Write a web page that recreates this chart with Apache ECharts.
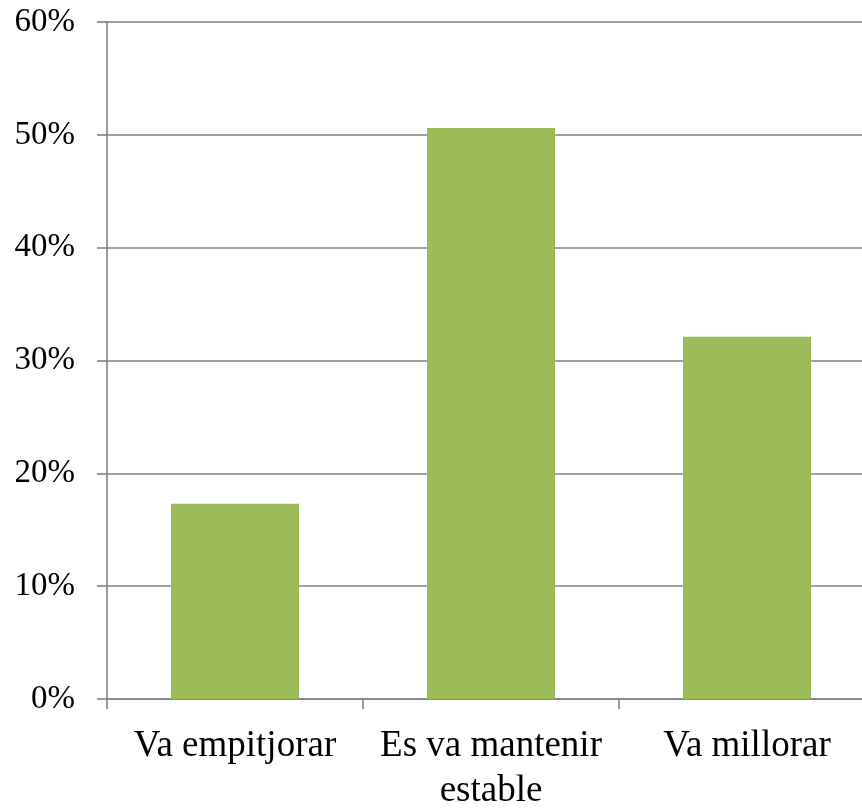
<!DOCTYPE html>
<html>
<head>
<meta charset="utf-8">
<script src="https://cdn.jsdelivr.net/npm/echarts@6/dist/echarts.min.js"></script>
<style>html,body{margin:0;padding:0;background:#fff}#c{width:862px;height:811px}</style>
</head>
<body>
<div id="c"></div>
<script>
const categories = ['Va empitjorar', 'Es va mantenir\nestable', 'Va millorar'];
const values = [0.173, 0.506, 0.321];
const yTicks = [0, 0.1, 0.2, 0.3, 0.4, 0.5, 0.6];

const chart = echarts.init(document.getElementById('c'));
const axisColor = '#808080';
const font = '"Liberation Serif", "Times New Roman", serif';
chart.setOption({
  animation: false,
  grid: { left: 107, top: 22, width: 768, height: 677, outerBoundsMode: 'none', containLabel: false },
  xAxis: {
    type: 'category',
    data: categories,
    boundaryGap: true,
    axisLine: { show: true, lineStyle: { color: axisColor, width: 1.6 } },
    axisTick: { show: true, length: 10, alignWithLabel: false, lineStyle: { color: axisColor, width: 1.6 } },
    axisLabel: { color: '#000', fontFamily: font, fontSize: 37, lineHeight: 45, margin: 25, interval: 0 },
    splitLine: { show: false }
  },
  yAxis: {
    type: 'value',
    min: yTicks[0],
    max: yTicks[yTicks.length - 1],
    interval: 0.1,
    axisLine: { show: true, lineStyle: { color: axisColor, width: 1.6 } },
    axisTick: { show: true, length: 10, lineStyle: { color: axisColor, width: 1.6 } },
    axisLabel: { color: '#000', fontFamily: font, fontSize: 33, margin: 32,
      formatter: v => Math.round(v * 100) + '%' },
    splitLine: { show: true, lineStyle: { color: axisColor, width: 1.6 } }
  },
  series: [{
    type: 'bar',
    data: values,
    barWidth: '50%',
    itemStyle: { color: '#9BBB59' }
  }]
});
</script>
</body>
</html>
